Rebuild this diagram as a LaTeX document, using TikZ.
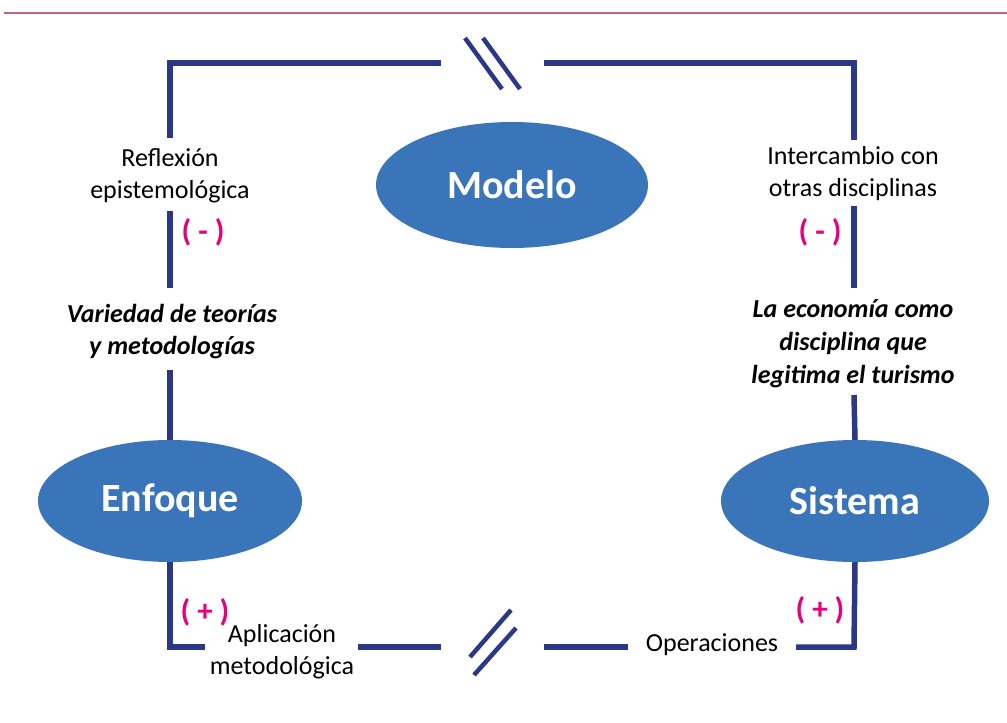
\documentclass[tikz,border=0pt]{standalone}
\usepackage{fontspec}
\setmainfont{Carlito}
\usetikzlibrary{shapes.geometric}
\definecolor{navy}{RGB}{43,56,136}
\definecolor{ellblue}{RGB}{59,117,185}
\definecolor{magenta}{RGB}{230,0,126}
\definecolor{rose}{RGB}{200,100,130}
\tikzset{
  frame/.style={navy,line width=5.5pt},
  brk/.style={navy,line width=4.5pt},
  ell/.style={ellipse,fill=ellblue,draw=none,inner sep=0pt,text=white,font=\fontsize{40}{46}\selectfont\bfseries},
  lbl/.style={align=center,inner sep=0pt,font=\fontsize{26}{32}\selectfont},
  blbl/.style={align=center,inner sep=0pt,font=\fontsize{26}{32}\selectfont\bfseries\itshape},
  sign/.style={inner sep=0pt,text=magenta,font=\fontsize{31}{32}\selectfont\bfseries},
}
\begin{document}
\begin{tikzpicture}[x=1pt,y=-1pt]
\useasboundingbox (0,0) rectangle (1007,723);
\draw[rose,line width=2.5pt] (4,13) -- (1007,13);
% ellipses
\node[ell,minimum width=272pt,minimum height=126pt] (modelo) at (512,185) {Modelo};
\node[ell,minimum width=264pt,minimum height=122pt] (enfoque) at (170,501) {Enfoque};
\node[ell,minimum width=268pt,minimum height=122pt] (sistema) at (855,501) {Sistema};
% texts
\node[lbl] (refl) at (170,176) {Reflexión\\epistemológica};
\node[lbl] (inter) at (853,174) {Intercambio con\\otras disciplinas};
\node[blbl] (var) at (172,332) {Variedad de teorías\\y metodologías};
\node[blbl,font=\fontsize{26}{33}\selectfont\bfseries\itshape] (eco) at (853,344) {La economía como\\disciplina que\\legitima el turismo};
\node[lbl] (apl) at (282,652) {Aplicación\\metodológica};
\node[lbl] (oper) at (712,645) {Operaciones};
\node[sign] (s1) at (203,232) {( - )};
\node[sign] (s2) at (820,232) {( - )};
\node[sign] (s3) at (205,612) {( + )};
\node[sign] (s4) at (820,610) {( + )};
% frame coordinates
\coordinate (tl) at (170,63);
\coordinate (tr) at (854,63);
\coordinate (bl) at (170,647);
\coordinate (br) at (854,647);
\coordinate (t1) at (441,63);
\coordinate (t2) at (544,63);
\coordinate (l1) at (170,138);
\coordinate (l2) at (170,211);
\coordinate (l3) at (170,288);
\coordinate (l4) at (170,370);
\coordinate (r1) at (854,140);
\coordinate (r2) at (854,206);
\coordinate (r3) at (854,288);
\coordinate (r4) at (854,395);
\coordinate (b1) at (205,647);
\coordinate (b2) at (358,647);
\coordinate (b3) at (441,647);
\coordinate (b4) at (544,647);
\coordinate (b5) at (628,647);
\coordinate (b6) at (796,647);
% frame segments
\draw[frame] (t1) -- (tl) -- (l1);
\draw[frame] (l2) -- (l3);
\draw[frame] (l4) -- (enfoque.north);
\draw[frame] (enfoque.south) -- (bl) -- (b1);
\draw[frame] (b2) -- (b3);
\draw[frame] (b4) -- (b5);
\draw[frame] (b6) -- (br) -- (sistema.south);
\draw[frame] (sistema.north) -- (r4);
\draw[frame] (r3) -- (r2);
\draw[frame] (r1) -- (tr) -- (t2);
% break marks
\coordinate (k1a) at (465,38); \coordinate (k1b) at (502,89);
\coordinate (k2a) at (483,38); \coordinate (k2b) at (520,89);
\coordinate (k3a) at (470,657); \coordinate (k3b) at (511,610);
\coordinate (k4a) at (474,675); \coordinate (k4b) at (516,628);
\draw[brk] (k1a) -- (k1b);
\draw[brk] (k2a) -- (k2b);
\draw[brk] (k3a) -- (k3b);
\draw[brk] (k4a) -- (k4b);
\end{tikzpicture}
\end{document}
